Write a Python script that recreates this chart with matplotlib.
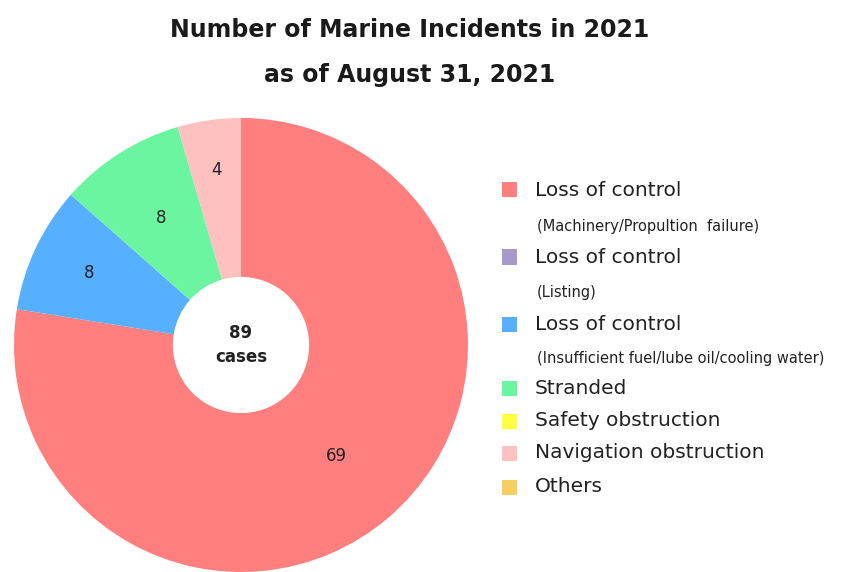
import numpy as np
import matplotlib.pyplot as plt
from matplotlib.patches import Rectangle

# incidents by type, Jan 1 - Aug 31 2021
categories = [
    "Loss of control",
    "Loss of control",
    "Loss of control",
    "Stranded",
    "Safety obstruction",
    "Navigation obstruction",
    "Others",
]
sublabels = [
    "(Machinery/Propultion  failure)",
    "(Listing)",
    "(Insufficient fuel/lube oil/cooling water)",
]
counts = [69, 0, 8, 8, 0, 4, 0]
colors = ["#ff7f7f", "#a59aca", "#56b0ff", "#6cf5a0", "#ffff40", "#ffc0c0", "#f5d060"]
label_r = [0.645, 0, 0.74, 0.66, 0, 0.78, 0]   # how far out each count sits
total = sum(counts)

W, H = 848, 572
fig = plt.figure(figsize=(W / 100, H / 100), dpi=100)

# pie axes placed in pixel terms: centre (241, 345), radius 227
cx, cy, r = 241, 345, 227
ax = fig.add_axes([(cx - r) / W, (H - cy - r) / H, 2 * r / W, 2 * r / H])

wedges, _ = ax.pie(counts, colors=colors, startangle=90, counterclock=False,
                   radius=1, wedgeprops=dict(width=0.7, linewidth=0),
                   frame=True)
ax.set_xlim(-1, 1)
ax.set_ylim(-1, 1)
ax.set_aspect("equal")
ax.axis("off")

for w, n, lr in zip(wedges, counts, label_r):
    if n == 0:
        continue
    ang = np.deg2rad((w.theta1 + w.theta2) / 2)
    ax.text(lr * np.cos(ang), lr * np.sin(ang), str(n),
            ha="center", va="center", fontsize=12, color="#222222")

ax.text(0, 0, f"{total}\ncases", ha="center", va="center", fontsize=12,
        fontweight="bold", color="#222222", linespacing=1.5)

# titles
fig.text(410 / W, 1 - 30 / H, "Number of Marine Incidents in 2021",
         ha="center", va="center", fontsize=17, fontweight="bold", color="#1a1a1a")
fig.text(410 / W, 1 - 75 / H, "as of August 31, 2021",
         ha="center", va="center", fontsize=17, fontweight="bold", color="#1a1a1a")

# hand-drawn legend
main_y = [190, 257, 324, 388, 421, 453, 487]
sub_y = [226, 292, 358]
sq = 15
for y, lab, col in zip(main_y, categories, colors):
    fig.add_artist(Rectangle((502 / W, 1 - (y + sq / 2) / H), sq / W, sq / H,
                             transform=fig.transFigure, facecolor=col,
                             edgecolor="none"))
    fig.text(535 / W, 1 - y / H, lab, ha="left", va="center",
             fontsize=14.5, color="#222222")
for y, sub in zip(sub_y, sublabels):
    fig.text(537 / W, 1 - y / H, sub, ha="left", va="center",
             fontsize=10.5, color="#222222")

fig.savefig("out.png", dpi=100)
